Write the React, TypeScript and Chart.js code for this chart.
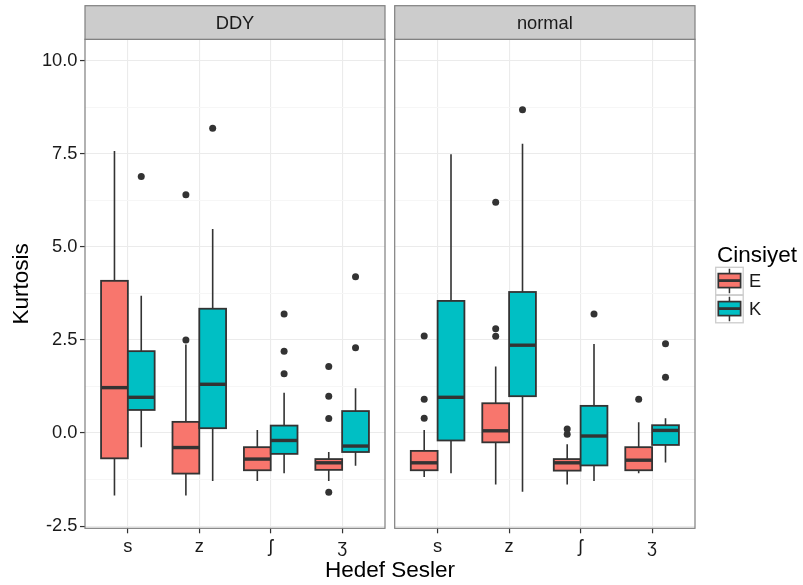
import React, { useEffect, useRef } from "react";
import { Chart, registerables } from "chart.js";
Chart.register(...registerables);

// ---------- data ----------
const categories = ["s", "z", "ʃ", "ʒ"];
const facets = ["DDY", "normal"];
const groups = ["E", "K"];
const groupColors = ["#F8766D", "#00BFC4"];

// each row: [lower whisker, Q1, median, Q3, upper whisker]
const ddyE = [
  [-1.68, -0.68, 1.22, 4.09, 7.58],
  [-1.68, -1.09, -0.39, 0.3, 2.38],
  [-1.29, -1.0, -0.7, -0.38, 0.08],
  [-1.29, -0.99, -0.8, -0.7, -0.51],
];
const ddyK = [
  [-0.38, 0.62, 0.96, 2.2, 3.69],
  [-1.29, 0.13, 1.31, 3.34, 5.48],
  [-1.08, -0.56, -0.2, 0.2, 1.08],
  [-0.88, -0.51, -0.35, 0.59, 1.2],
];
const normalE = [
  [-1.18, -1.0, -0.8, -0.48, 0.08],
  [-1.38, -0.25, 0.06, 0.8, 1.79],
  [-1.38, -1.01, -0.8, -0.7, -0.3],
  [-1.08, -1.0, -0.73, -0.38, 0.29],
];
const normalK = [
  [-1.08, -0.2, 0.96, 3.55, 7.49],
  [-1.58, 0.99, 2.36, 3.79, 7.77],
  [-1.29, -0.87, -0.08, 0.73, 2.39],
  [-0.79, -0.32, 0.07, 0.21, 0.4],
];
const ddyEOut = [[], [2.5, 6.4], [], [1.79, 0.99, 0.39, -1.59]];
const ddyKOut = [[6.89], [8.19], [3.2, 2.2, 1.59], [2.29, 4.2]];
const normalEOut = [[2.61, 0.91, 0.4], [2.8, 2.6, 6.2], [0.11, -0.03], [0.91]];
const normalKOut = [[], [8.69], [3.2], [2.4, 1.5]];

const yMajor = [-2.5, 0, 2.5, 5, 7.5, 10];
const yMinor = [-1.25, 1.25, 3.75, 6.25, 8.75];
const Y_MIN = -2.56;
const Y_MAX = 10.58;

// ---------- layout ----------
const FONT = '"Liberation Sans", Arial, Helvetica, sans-serif';
const W = 803;
const H = 585;
const PANEL_TOP = 39.3;
const PANEL_BOTTOM = 528.3;
const STRIP_TOP = 5.7;
const panelX = [
  [85, 385],
  [394.7, 695],
];
const dodge = [-0.1875, 0.1875];
const boxHalf = 0.1875;
const TICK_FONT = 18.3;

function buildChart(canvas: HTMLCanvasElement, f: number) {
  const [pl, pr] = panelX[f];
  const stats = f === 0 ? [ddyE, ddyK] : [normalE, normalK];
  const outs = f === 0 ? [ddyEOut, ddyKOut] : [normalEOut, normalKOut];

  const plugin = {
    id: "ggbox" + f,
    beforeDatasetsDraw(chart: any) {
      const { ctx } = chart;
      const x = chart.scales.x;
      const y = chart.scales.y;
      ctx.save();
      stats.forEach((st, g) => {
        st.forEach((s, i) => {
          const c = i + 1 + dodge[g];
          const xc = x.getPixelForValue(c);
          const x0 = x.getPixelForValue(c - boxHalf);
          const x1 = x.getPixelForValue(c + boxHalf);
          const [mn, q1, md, q3, mx] = s.map((v) => y.getPixelForValue(v));
          ctx.strokeStyle = "#333333";
          ctx.lineWidth = 1.6;
          ctx.beginPath();
          ctx.moveTo(xc, mx);
          ctx.lineTo(xc, q3);
          ctx.moveTo(xc, q1);
          ctx.lineTo(xc, mn);
          ctx.stroke();
          ctx.fillStyle = groupColors[g];
          ctx.fillRect(x0, q3, x1 - x0, q1 - q3);
          ctx.lineWidth = 1.8;
          ctx.strokeRect(x0, q3, x1 - x0, q1 - q3);
          ctx.lineWidth = 3.4;
          ctx.beginPath();
          ctx.moveTo(x0, md);
          ctx.lineTo(x1, md);
          ctx.stroke();
        });
      });
      ctx.restore();
    },
    afterDraw(chart: any) {
      const { ctx, chartArea: ca } = chart;
      ctx.save();
      // panel border
      ctx.strokeStyle = "#7F7F7F";
      ctx.lineWidth = 1.2;
      ctx.strokeRect(ca.left, ca.top, ca.right - ca.left, ca.bottom - ca.top);
      // strip
      ctx.fillStyle = "#CCCCCC";
      ctx.fillRect(ca.left, STRIP_TOP, ca.right - ca.left, ca.top - STRIP_TOP);
      ctx.strokeRect(ca.left, STRIP_TOP, ca.right - ca.left, ca.top - STRIP_TOP);
      ctx.fillStyle = "#1A1A1A";
      ctx.font = `${TICK_FONT}px ${FONT}`;
      ctx.textAlign = "center";
      ctx.textBaseline = "middle";
      ctx.fillText(facets[f], (ca.left + ca.right) / 2, (STRIP_TOP + ca.top) / 2 + 1);

      if (f === 0) {
        ctx.fillStyle = "#000";
        ctx.font = `22.5px ${FONT}`;
        ctx.save();
        ctx.translate(22, (ca.top + ca.bottom) / 2);
        ctx.rotate(-Math.PI / 2);
        ctx.textAlign = "center";
        ctx.textBaseline = "middle";
        ctx.fillText("Kurtosis", 0, 0);
        ctx.restore();
        ctx.textAlign = "center";
        ctx.textBaseline = "alphabetic";
        ctx.fillText("Hedef Sesler", (panelX[0][0] + panelX[1][1]) / 2, 576.5);
      } else {
        // legend
        ctx.fillStyle = "#000";
        ctx.font = `22.5px ${FONT}`;
        ctx.textAlign = "left";
        ctx.textBaseline = "alphabetic";
        ctx.fillText("Cinsiyet", 717, 262);
        groups.forEach((g, k) => {
          const kx = 715.7;
          const ky = 267.3 + k * 28;
          const ks = 27.5;
          ctx.fillStyle = "#FFFFFF";
          ctx.fillRect(kx, ky, ks, ks);
          ctx.strokeStyle = "#CCCCCC";
          ctx.lineWidth = 1.3;
          ctx.strokeRect(kx, ky, ks, ks);
          const cx = kx + ks / 2;
          ctx.strokeStyle = "#333333";
          ctx.lineWidth = 1.5;
          ctx.beginPath();
          ctx.moveTo(cx, ky + 1.5);
          ctx.lineTo(cx, ky + 6.3);
          ctx.moveTo(cx, ky + 20.3);
          ctx.lineTo(cx, ky + 26);
          ctx.stroke();
          ctx.fillStyle = groupColors[k];
          ctx.fillRect(kx + 2.6, ky + 6.3, ks - 5.2, 14);
          ctx.lineWidth = 1.7;
          ctx.strokeRect(kx + 2.6, ky + 6.3, ks - 5.2, 14);
          ctx.lineWidth = 2.8;
          ctx.beginPath();
          ctx.moveTo(kx + 2.6, ky + 13.3);
          ctx.lineTo(kx + ks - 2.6, ky + 13.3);
          ctx.stroke();
          ctx.fillStyle = "#1A1A1A";
          ctx.font = `${TICK_FONT}px ${FONT}`;
          ctx.textBaseline = "middle";
          ctx.fillText(g, 749, ky + ks / 2 + 1);
        });
      }
      ctx.restore();
    },
  };

  const datasets = outs.map((o, g) => ({
    type: "scatter" as const,
    label: groups[g],
    data: o.flatMap((vals, i) => vals.map((v) => ({ x: i + 1 + dodge[g], y: v }))),
    pointRadius: 3.5,
    pointHoverRadius: 3.5,
    pointBackgroundColor: "#333333",
    pointBorderWidth: 0,
    pointBorderColor: "#333333",
    showLine: false,
  }));

  const isMajor = (v: number) => yMajor.some((m) => Math.abs(m - v) < 1e-9);

  return new Chart(canvas, {
    type: "scatter",
    data: { datasets },
    plugins: [plugin],
    options: {
      responsive: false,
      animation: false,
      events: [],
      layout: {
        padding: {
          left: f === 0 ? 0 : pl,
          right: W - pr,
          top: PANEL_TOP,
          bottom: 0,
        },
      },
      plugins: { legend: { display: false }, tooltip: { enabled: false } },
      scales: {
        x: {
          type: "linear",
          min: 0.4,
          max: 4.6,
          afterBuildTicks: (s: any) => {
            s.ticks = categories.map((_, i) => ({ value: i + 1 }));
          },
          afterFit: (s: any) => {
            s.height = H - PANEL_BOTTOM;
          },
          ticks: {
            autoSkip: false,
            maxRotation: 0,
            padding: 3,
            color: "#1A1A1A",
            font: { family: FONT, size: TICK_FONT },
            callback: (_v: any, i: number) => categories[i] ?? "",
          },
          grid: {
            color: "#EBEBEB",
            lineWidth: 1.1,
            tickColor: "#333333",
            tickWidth: 1.2,
            tickLength: 5,
          },
          border: { display: false },
        },
        y: {
          type: "linear",
          min: Y_MIN,
          max: Y_MAX,
          afterBuildTicks: (s: any) => {
            s.ticks = [...yMajor, ...yMinor].sort((a, b) => a - b).map((v) => ({ value: v }));
          },
          afterFit: (s: any) => {
            s.width = f === 0 ? pl : 0;
          },
          ticks: {
            display: f === 0,
            autoSkip: false,
            padding: 2.5,
            color: "#1A1A1A",
            font: { family: FONT, size: TICK_FONT },
            callback: (v: any) => (isMajor(Number(v)) ? Number(v).toFixed(1) : ""),
          },
          grid: {
            drawTicks: f === 0,
            color: (ctx: any) => (ctx.tick && isMajor(ctx.tick.value) ? "#EBEBEB" : "#F6F6F6"),
            lineWidth: 1.1,
            tickColor: (ctx: any) => (ctx.tick && isMajor(ctx.tick.value) ? "#333333" : "rgba(0,0,0,0)"),
            tickWidth: 1.2,
            tickLength: 5,
          },
          border: { display: false },
        },
      },
    } as any,
  });
}

export default function App() {
  const ref1 = useRef<HTMLCanvasElement>(null);
  const ref2 = useRef<HTMLCanvasElement>(null);
  useEffect(() => {
    const c1 = buildChart(ref1.current!, 0);
    const c2 = buildChart(ref2.current!, 1);
    return () => {
      c1.destroy();
      c2.destroy();
    };
  }, []);
  const cs: React.CSSProperties = { position: "absolute", left: 0, top: 0, width: W, height: H };
  return (
    <div style={{ position: "fixed", left: 0, top: 0, width: W, height: H, background: "#FFFFFF" }}>
      <canvas ref={ref1} width={W} height={H} style={cs} />
      <canvas ref={ref2} width={W} height={H} style={cs} />
    </div>
  );
}
